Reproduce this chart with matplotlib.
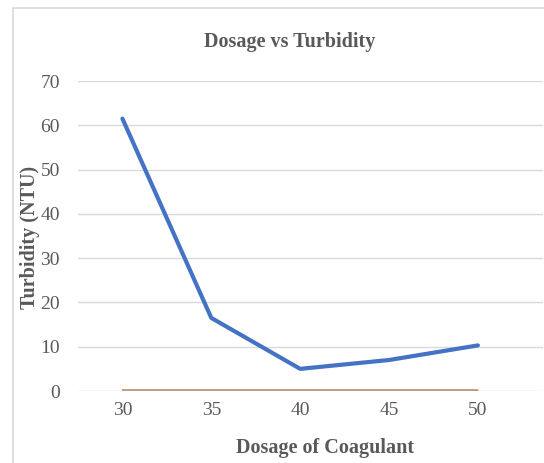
import matplotlib
matplotlib.use("Agg")
import matplotlib.pyplot as plt
from matplotlib.patches import Rectangle

dosage = ["30", "35", "40", "45", "50"]
turbidity = [61.5, 16.5, 5.0, 7.0, 10.3]
series_zero_a = [0, 0, 0, 0, 0]
series_zero_b = [0, 0, 0, 0, 0]
y_ticks = [0, 10, 20, 30, 40, 50, 60, 70]

fig = plt.figure(figsize=(5.44, 4.63), dpi=100)
fig.patches.append(Rectangle((13/544, -0.2), 1.2, 1.2 - 8/463, transform=fig.transFigure,
                             fill=False, edgecolor="#D9D9D9", linewidth=1.2))

ax = fig.add_axes([78/544, 1 - 391/463, (543 - 78)/544, (391 - 81)/463])
x = list(range(len(dosage)))
ax.plot(x, series_zero_a, color="#ED7D31", linewidth=2.6, solid_capstyle="butt", zorder=2)
ax.plot(x, series_zero_b, color="#A5A5A5", linewidth=2.4, solid_capstyle="butt", zorder=3)
ax.plot(x, turbidity, color="#4472C4", linewidth=3.0, solid_capstyle="round", zorder=4)

ax.set_xlim(-0.5, 4 + 65/88.75)
ax.set_ylim(0, 70)
ax.set_yticks(y_ticks)
ax.set_xticks(x)
ax.set_xticklabels(dosage)
ax.grid(axis="y", color="#D9D9D9", linewidth=1.0)
ax.set_axisbelow(True)
for s in ax.spines.values():
    s.set_visible(False)
ax.tick_params(length=0, labelsize=14, labelcolor="#595959")
for lab in ax.get_xticklabels() + ax.get_yticklabels():
    lab.set_family("Liberation Serif")
ax.tick_params(axis="y", pad=13)
ax.tick_params(axis="x", pad=8)

fig.text(290/544, 1 - 42/463, "Dosage vs Turbidity", ha="center", va="center",
         fontsize=14.5, fontweight="bold", family="Liberation Serif", color="#595959")
fig.text(325/544, 1 - 448/463, "Dosage of Coagulant", ha="center", va="center",
         fontsize=14.5, fontweight="bold", family="Liberation Serif", color="#595959")
fig.text(30/544, 1 - 237/463, "Turbidity (NTU)", ha="center", va="center", rotation=90,
         fontsize=14.5, fontweight="bold", family="Liberation Serif", color="#595959")

fig.savefig("out.png", dpi=100)
